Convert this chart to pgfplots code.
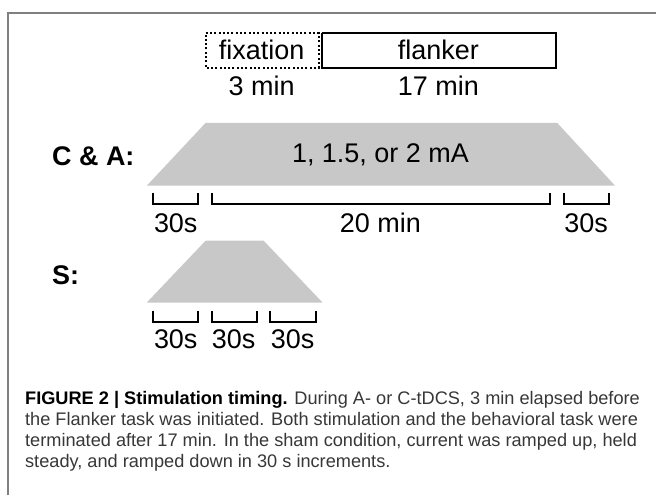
\documentclass[border=0pt]{standalone}
\usepackage{pgfplots}
\pgfplotsset{compat=1.18}
\usepackage{fontspec}
\setmainfont{Liberation Sans}
\definecolor{trap}{RGB}{200,200,200}
\definecolor{framec}{RGB}{128,128,128}
\definecolor{captxt}{RGB}{55,55,55}
\newcommand{\bigfnt}{\fontsize{27}{30}\selectfont}
\newcommand{\capfnt}{\fontsize{18.2}{21}\selectfont}
\begin{document}
\begin{tikzpicture}
\begin{axis}[
  width=657pt, height=496pt, scale only axis,
  xmin=0, xmax=657, ymin=0, ymax=496, y dir=reverse,
  hide axis, clip=false,
]
% bounding region
\addplot[draw=none, forget plot] coordinates {(0,0) (657,496)};
% frame
\addplot[framec, line width=2pt] coordinates {(8,496) (8,13) (657,13)};
% fixation and flanker boxes
\addplot[black, line width=2pt, line cap=butt, dash pattern=on 2pt off 2.3pt] coordinates {(206,33) (319,33) (319,68) (206,68) (206,33)};
\addplot[black, line width=2pt] coordinates {(322,33) (557,33) (557,68) (322,68) (322,33)};
% C & A trapezoid
\addplot[fill=trap, draw=none] coordinates {(147,186) (206,123) (558,123) (616,186) (147,186)};
% S trapezoid
\addplot[fill=trap, draw=none] coordinates {(147,303) (206,241) (264,241) (323,303) (147,303)};
% C & A brackets
\addplot[black, line width=2pt] coordinates {(153,193) (153,204) (198,204) (198,193)};
\addplot[black, line width=2pt] coordinates {(212,193) (212,204) (551,204) (551,193)};
\addplot[black, line width=2pt] coordinates {(565,193) (565,204) (610,204) (610,193)};
% S brackets
\addplot[black, line width=2pt] coordinates {(153,311) (153,322) (198,322) (198,311)};
\addplot[black, line width=2pt] coordinates {(212,311) (212,322) (257,322) (257,311)};
\addplot[black, line width=2pt] coordinates {(270,311) (270,322) (316,322) (316,311)};
% labels
\node[anchor=base, font=\bigfnt] at (axis cs:262,60) {fixation};
\node[anchor=base, font=\bigfnt] at (axis cs:439,60) {flanker};
\node[anchor=base, font=\bigfnt] at (axis cs:262,96) {3 min};
\node[anchor=base, font=\bigfnt] at (axis cs:439,96) {17 min};
\node[anchor=base west, font=\bigfnt\bfseries, inner sep=0pt] at (axis cs:52,166) {C \& A:};
\node[anchor=base, font=\bigfnt] at (axis cs:381,163) {1, 1.5, or 2 mA};
\node[anchor=base, font=\bigfnt] at (axis cs:176,233) {30s};
\node[anchor=base, font=\bigfnt] at (axis cs:381,233) {20 min};
\node[anchor=base, font=\bigfnt] at (axis cs:587,233) {30s};
\node[anchor=base west, font=\bigfnt\bfseries, inner sep=0pt] at (axis cs:52,285) {S:};
\node[anchor=base, font=\bigfnt] at (axis cs:176,349) {30s};
\node[anchor=base, font=\bigfnt] at (axis cs:234,349) {30s};
\node[anchor=base, font=\bigfnt] at (axis cs:293,349) {30s};
% caption
\node[anchor=base west, font=\capfnt, inner sep=0pt, text=captxt] at (axis cs:25,405) {\textcolor{black}{\textbf{FIGURE 2 | Stimulation timing.}} During A- or C-tDCS, 3 min elapsed before};
\node[anchor=base west, font=\capfnt, inner sep=0pt, text=captxt] at (axis cs:25,426) {the Flanker task was initiated. Both stimulation and the behavioral task were};
\node[anchor=base west, font=\capfnt, inner sep=0pt, text=captxt] at (axis cs:25,447) {terminated after 17 min. In the sham condition, current was ramped up, held};
\node[anchor=base west, font=\capfnt, inner sep=0pt, text=captxt] at (axis cs:25,468) {steady, and ramped down in 30 s increments.};
\end{axis}
\end{tikzpicture}
\end{document}
